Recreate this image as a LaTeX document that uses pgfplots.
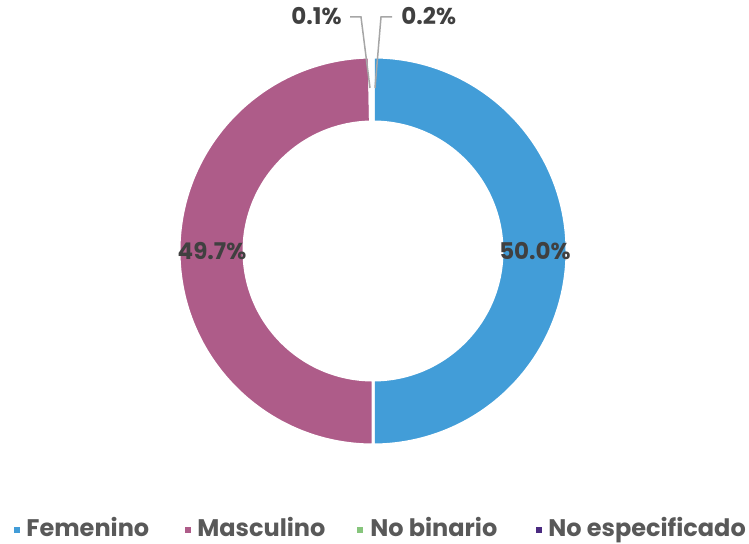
\documentclass[border=0pt]{standalone}
\usepackage{fontspec}
\setmainfont{Poppins}
\usepackage{pgfplots}
\usepackage{pgfplotstable}
\pgfplotsset{compat=1.18}
\usetikzlibrary{calc}

\definecolor{cFem}{HTML}{429DD8}
\definecolor{cMas}{HTML}{AE5C89}
\definecolor{cNob}{HTML}{86C57C}
\definecolor{cNoe}{HTML}{4A2A80}
\definecolor{txtLeg}{HTML}{595959}
\definecolor{txtLab}{HTML}{404040}
\definecolor{leader}{HTML}{A6A6A6}

% share of each gender, in percent
\pgfplotstableread{
label value
Femenino 50.0
Masculino 49.7
Nobinario 0.1
Noespecificado 0.2
}\gendata

\newcommand\ringslice[3]{%
  \fill[#3, draw=white, line width=1.5pt]
    ($(axis cs:373,293)+(#1:97pt)$) arc[start angle=#1, end angle=#2, radius=97pt]
    -- ($(axis cs:373,293)+(#2:64.5pt)$) arc[start angle=#2, end angle=#1, radius=64.5pt]
    -- cycle;}
\newcommand\pct[1]{\pgfmathprintnumber[fixed,fixed zerofill,precision=1,assume math mode=true]{#1}\%}

\begin{document}
\begin{tikzpicture}
\pgfplotstablegetelem{0}{value}\of\gendata \let\vA\pgfplotsretval
\pgfplotstablegetelem{1}{value}\of\gendata \let\vB\pgfplotsretval
\pgfplotstablegetelem{2}{value}\of\gendata \let\vC\pgfplotsretval
\pgfplotstablegetelem{3}{value}\of\gendata \let\vD\pgfplotsretval
\pgfmathsetmacro\aA{90}
\pgfmathsetmacro\aB{\aA-3.6*\vA}
\pgfmathsetmacro\aC{\aB-3.6*\vB}
\pgfmathsetmacro\aD{\aC-3.6*\vC}
\pgfmathsetmacro\aE{\aD-3.6*\vD}
\begin{axis}[
  x=0.5pt, y=0.5pt,
  xmin=0, xmax=749, ymin=0, ymax=544,
  hide axis, clip=false,
]
  \path (axis cs:0,0) rectangle (axis cs:749,544);
  \ringslice{\aA}{\aB}{cFem}
  \ringslice{\aB}{\aC}{cMas}
  \ringslice{\aC}{\aD}{cNob}
  \ringslice{\aD}{\aE}{cNoe}

  % data labels
  \begin{scope}[font=\bfseries\fontsize{11.5}{13}\selectfont, text=txtLab, inner sep=0pt]
    \node[anchor=base] at (axis cs:535,284) {\pct{\vA}};
    \node[anchor=base] at (axis cs:212,284) {\pct{\vB}};
    \node[anchor=base east] at (axis cs:342,519) {\pct{\vC}};
    \node[anchor=base west] at (axis cs:401,519) {\pct{\vD}};
  \end{scope}
  \draw[leader, line width=0.75pt] (axis cs:350,527) -- (axis cs:361,527) -- (axis cs:370,456);
  \draw[leader, line width=0.75pt] (axis cs:392,527) -- (axis cs:381,527) -- (axis cs:375,456);

  % legend
  \begin{scope}[font=\bfseries\fontsize{12}{14}\selectfont, text=txtLeg, inner sep=0pt]
    \fill[cFem] (axis cs:14,11) rectangle (axis cs:20,17);
    \node[anchor=base west] at (axis cs:26,7) {Femenino};
    \fill[cMas] (axis cs:185,11) rectangle (axis cs:191,17);
    \node[anchor=base west] at (axis cs:197,7) {Masculino};
    \fill[cNob] (axis cs:357,11) rectangle (axis cs:363,17);
    \node[anchor=base west] at (axis cs:370,7) {No binario};
    \fill[cNoe] (axis cs:536,11) rectangle (axis cs:542,17);
    \node[anchor=base west] at (axis cs:548,7) {No especificado};
  \end{scope}
\end{axis}
\end{tikzpicture}
\end{document}
